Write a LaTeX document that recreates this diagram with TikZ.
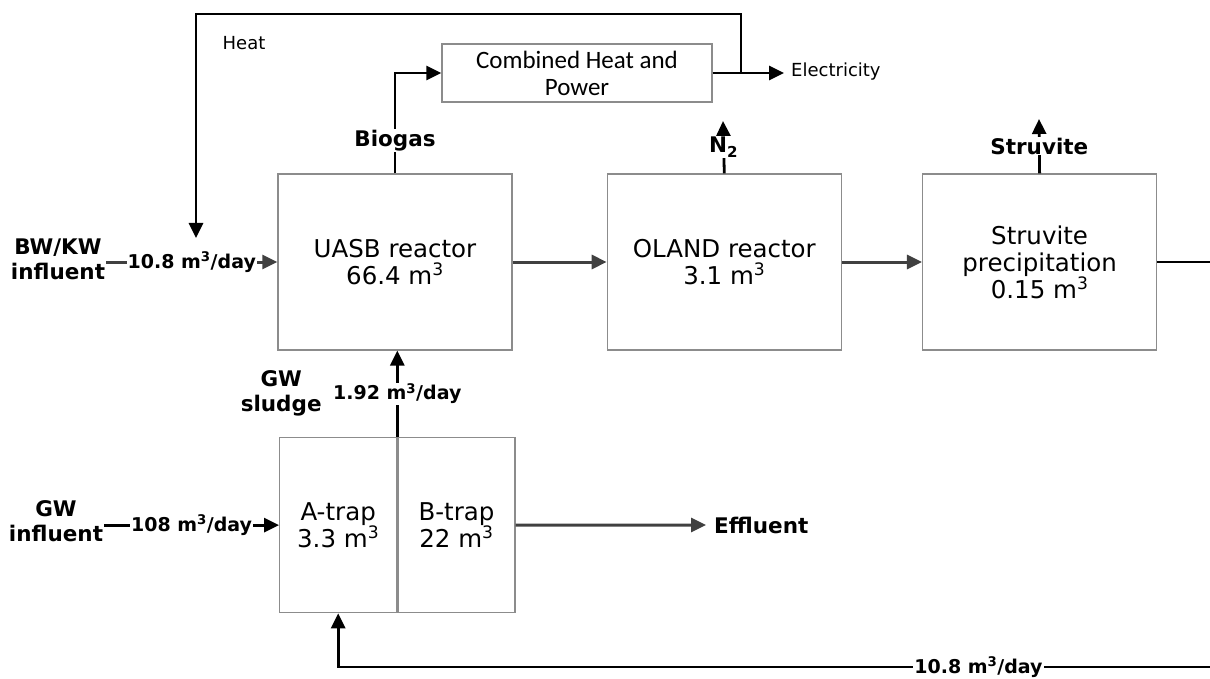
\documentclass[tikz,border=0pt]{standalone}
\usepackage{fontspec}
\setmainfont{DejaVu Sans}
\newfontfamily\chpfont{Carlito}
\usepackage{tikz}
\usetikzlibrary{arrows.meta,positioning}
\definecolor{flowGray}{HTML}{404040}
\definecolor{edgeGray}{HTML}{8C8C8C}

\begin{document}
\begin{tikzpicture}[x=1pt,y=-1pt,
  unit/.style={draw=edgeGray,line width=1.3pt,minimum width=234pt,minimum height=176pt,inner sep=0pt,align=center,font=\fontsize{24.5}{27}\selectfont},
  half/.style={unit,minimum width=117pt,minimum height=175pt},
  chpbox/.style={draw=edgeGray,line width=1.3pt,minimum width=270pt,minimum height=58pt,inner sep=0pt,align=center,font=\chpfont\fontsize{25}{27}\selectfont},
  flow/.style={-{Triangle[length=15pt,width=14pt]},line width=3pt,color=flowGray},
  feed/.style={-{Triangle[length=15pt,width=14pt]},line width=2.8pt,color=black},
  lbl/.style={font=\bfseries\fontsize{21.5}{25}\selectfont,align=center,inner sep=1pt,text=black},
  rate/.style={font=\bfseries\fontsize{19}{22}\selectfont,fill=white,inner sep=1pt,text=black},
  note/.style={font=\fontsize{18}{20}\selectfont,inner sep=0pt}
]
  \useasboundingbox (0,0) rectangle (1210,679);
  \clip (0,0) rectangle (1210,679);

  % process units
  \node[unit] (uasb) at (395,262) {UASB reactor\\66.4 m\textsuperscript{3}};
  \node[unit,right=94pt of uasb] (oland) {OLAND reactor\\3.1 m\textsuperscript{3}};
  \node[unit,right=80pt of oland] (struv) {Struvite\\precipitation\\0.15 m\textsuperscript{3}};
  \node[half,anchor=north west] (atrap) at (279,437) {A-trap\\3.3 m\textsuperscript{3}};
  \node[half,right=0pt of atrap] (btrap) {B-trap\\22 m\textsuperscript{3}};
  \node[chpbox] (chp) at (577,73) {Combined Heat and\\Power};

  % inflows
  \node[lbl] (bwkw) at (58,259) {BW/KW\\influent};
  \draw[flow] (bwkw.east |- uasb.west) -- node[rate]{10.8 m\textsuperscript{3}/day} (uasb.west);
  \node[lbl] (gwin) at (56,521) {GW\\influent};
  \draw[feed] (gwin.east |- atrap.west) -- node[rate]{108 m\textsuperscript{3}/day} (atrap.west);

  % biogas, heat and power
  \draw[feed] (uasb.north) -- node[lbl,fill=white,pos=0.33]{Biogas} (uasb.north |- chp.west) -- (chp.west);
  \node[note,anchor=west] (elec) at (791,72) {Electricity};
  \coordinate (elecin) at (784,73);
  \draw[feed] (chp.east) -- (elecin);
  \node[note] (heat) at (244,43) {Heat};
  \coordinate (split) at (741,73);
  \coordinate (loopR) at (741,14);
  \coordinate (loopL) at (196,14);
  \coordinate (heatin) at (196,238);
  \draw[feed] (split) -- (loopR) -- (loopL) -- (heatin);

  % main line
  \draw[flow] (uasb) -- (oland);
  \draw[flow] (oland) -- (struv);
  \coordinate (n2out) at (723,121);
  \draw[feed] (oland.north) -- node[lbl,fill=white]{N\textsubscript{2}} (n2out);
  \coordinate (strout) at (1039,119);
  \draw[feed] (struv.north) -- node[lbl,fill=white]{Struvite} (strout);

  % sludge, effluent and recycle
  \draw[feed] (atrap.north east) -- node[rate] (sludgerate) {1.92 m\textsuperscript{3}/day} (atrap.north east |- uasb.south);
  \node[lbl,left=8pt of sludgerate] (gwsl) {GW\\sludge};
  \node[lbl,anchor=west] (effl) at (713,525) {Effluent};
  \coordinate (efflin) at (706,525);
  \draw[flow] (btrap.east) -- (efflin);
  \coordinate (recR) at (1240,262);
  \coordinate (recB) at (1240,667);
  \draw[feed] (struv.east) -- (recR) -- (recB) -- node[rate,pos=0.29]{10.8 m\textsuperscript{3}/day} (recB -| atrap.south) -- (atrap.south);
\end{tikzpicture}
\end{document}
